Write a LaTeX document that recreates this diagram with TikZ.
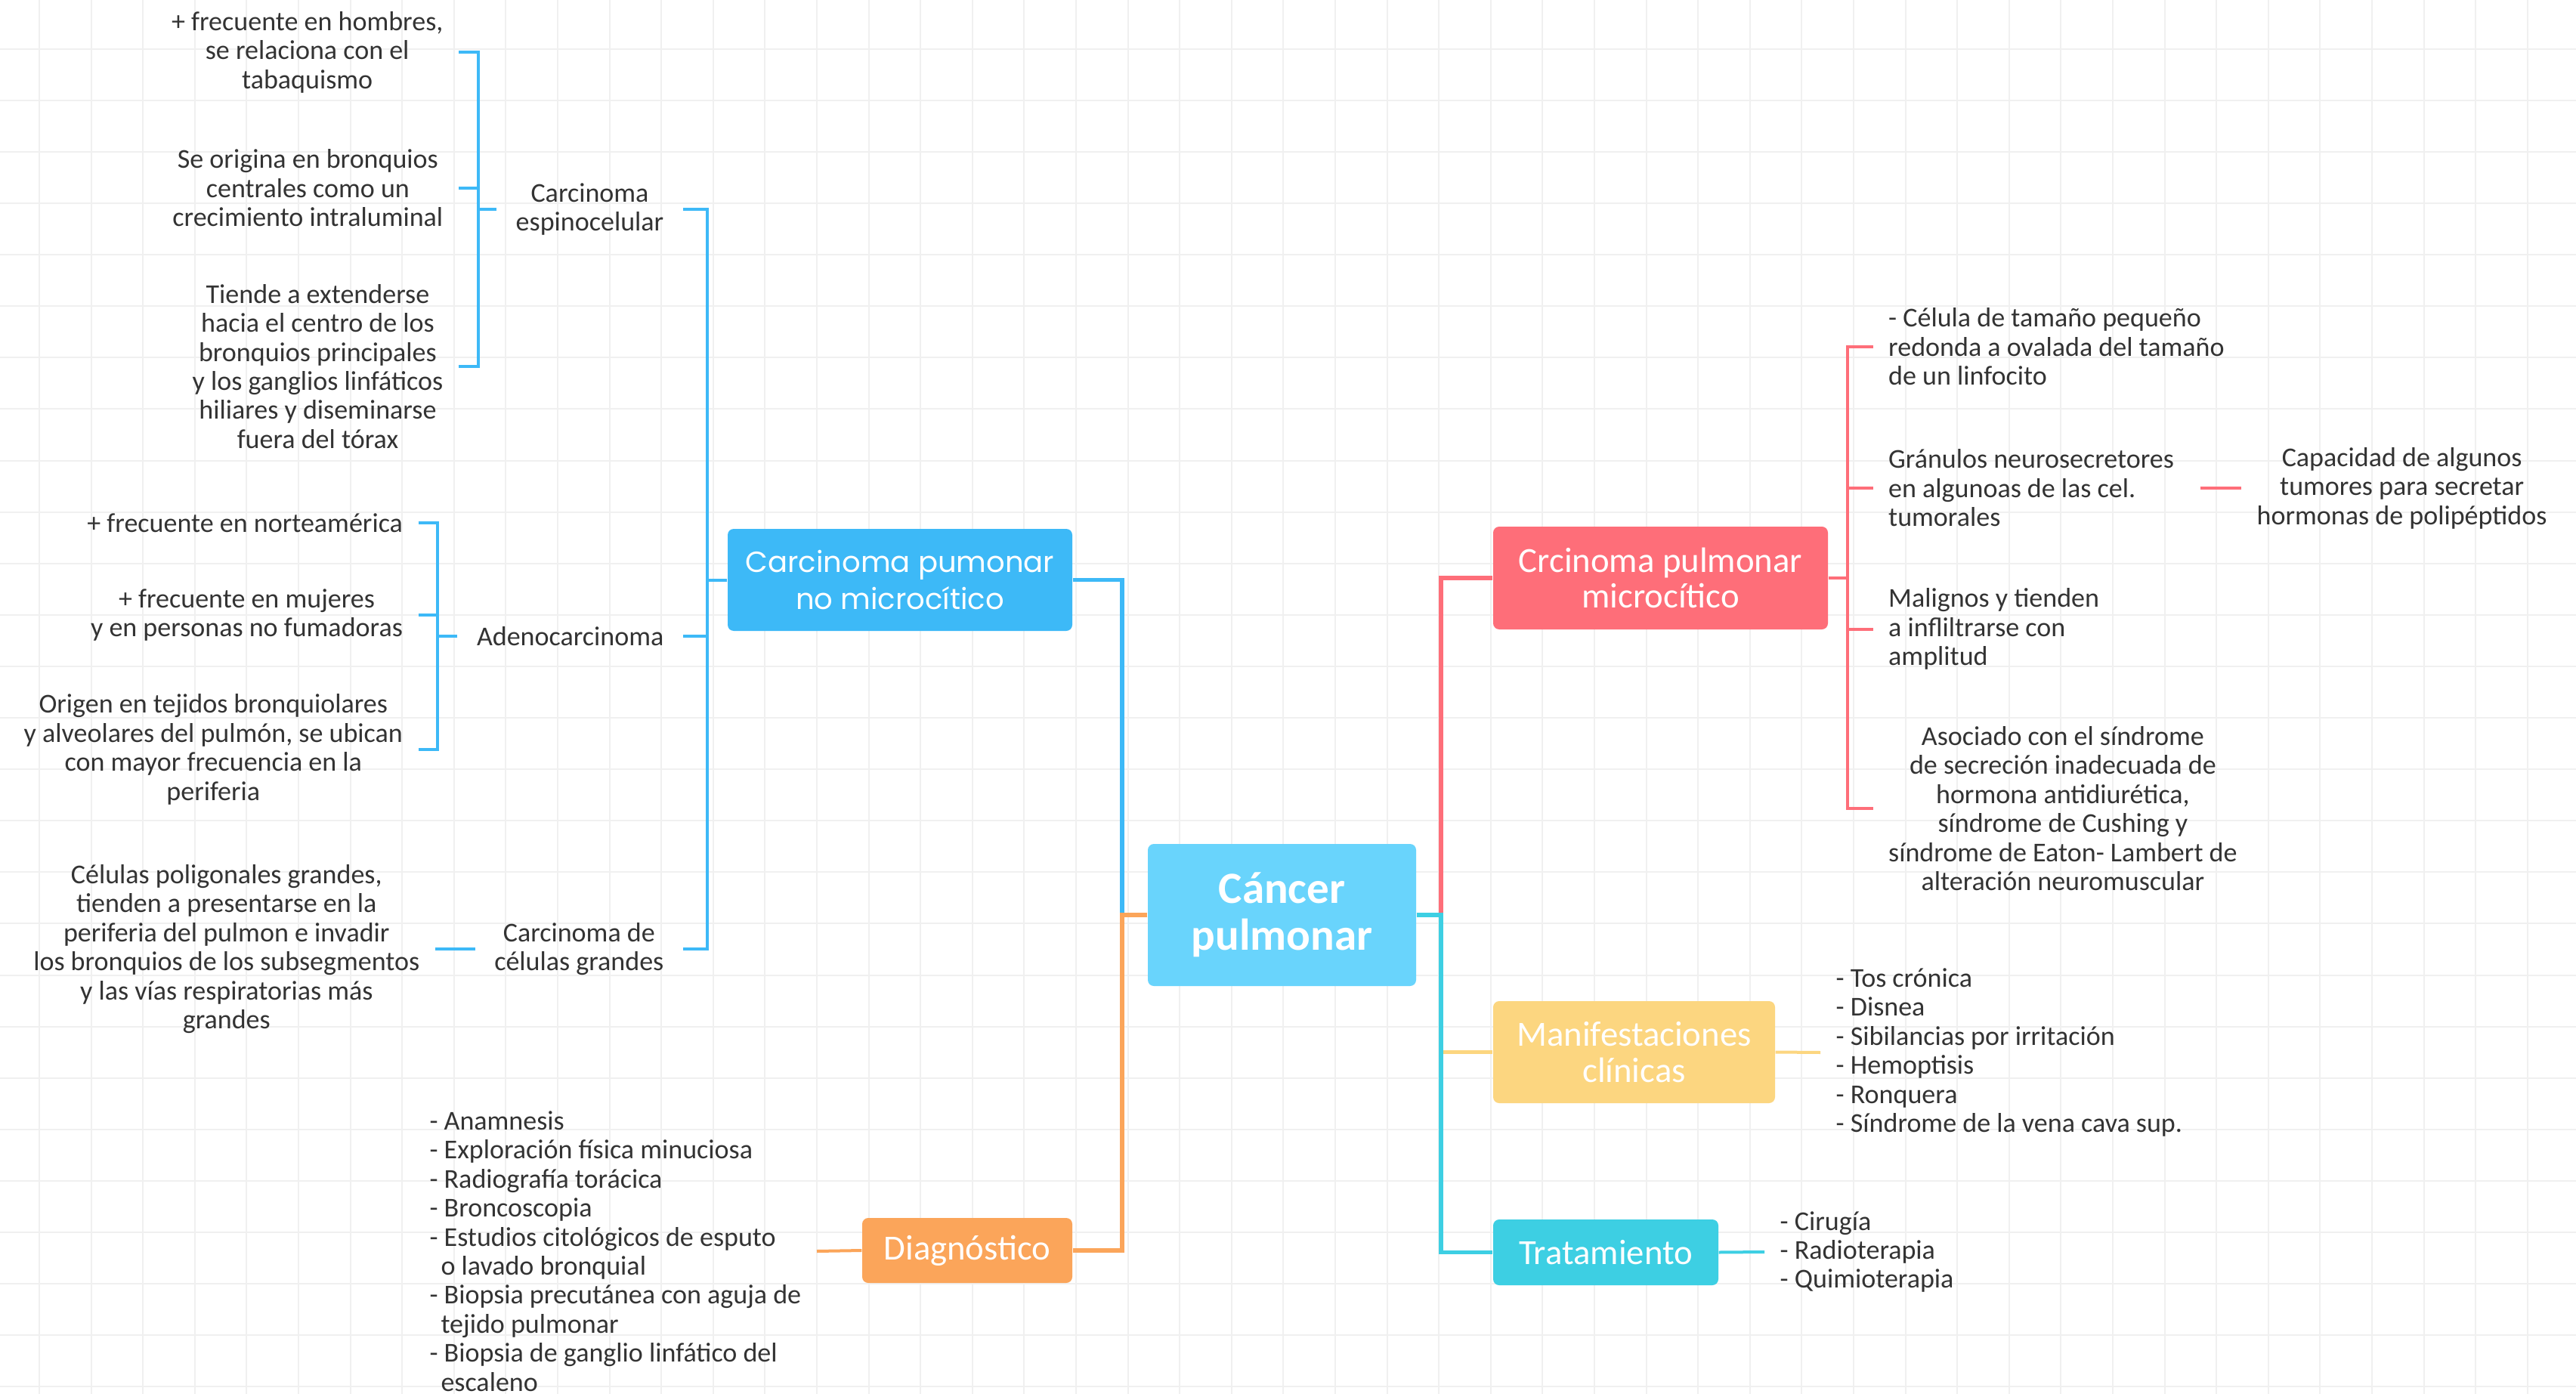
\documentclass[tikz,border=0pt]{standalone}
\usepackage{fontspec}
\setmainfont{Carlito}
\newfontfamily\wideface{Poppins}
\usepackage{xcolor}
\usepackage{tikz}

\definecolor{inkgray}{HTML}{333333}
\definecolor{gridgray}{HTML}{F0F0F0}
\definecolor{rootblue}{HTML}{69D4FC}
\definecolor{nsclcblue}{HTML}{3DB9F7}
\definecolor{sclcred}{HTML}{FE6E79}
\definecolor{clinyellow}{HTML}{FCD680}
\definecolor{tratcyan}{HTML}{3DCFE3}
\definecolor{diagorange}{HTML}{FBA55A}

\newcommand{\mmnote}{\fontsize{10.25}{10.93}\selectfont}
\newcommand{\mmtopic}{\fontsize{13.3}{13.5}\selectfont}
\newcommand{\mmroot}{\fontsize{16.8}{17.6}\selectfont\bfseries}
\newcommand{\mmwide}{\wideface\fontsize{10.96}{13.9}\selectfont}

\begin{document}
\begin{tikzpicture}[
            topic/.style={rectangle, rounded corners=0.08cm, text=white, align=center,
                 inner sep=0pt, font=\mmtopic},
            note/.style={text=inkgray, inner xsep=0.2cm, inner ysep=0pt, font=\mmnote},
            kind/.style={note, align=center, anchor=east, inner xsep=0.25cm},
            link/.style={line width=0.053cm},
            twig/.style={line width=0.04cm},
            gridline/.style={draw=gridgray, line width=0.02cm}
            ]

            % Background and grid
            \fill[white] (0,0) rectangle (34.09,-18.45);
            \useasboundingbox (0,0) rectangle (34.09,-18.45);
            \foreach \i in {0,...,48}
                \draw[gridline] ({0.52+0.686*\i},0) -- ++(0,-18.45);
            \foreach \j in {0,...,26}
                \draw[gridline] (0,{-0.647-0.681*\j}) -- ++(34.09,0);

            % Main topics with manual coordinates
            \node[topic, fill=rootblue, minimum width=3.55cm, minimum height=1.88cm, font=\mmroot] (root) at (16.965,-12.11) {Cáncer\\pulmonar};
            \node[topic, fill=nsclcblue, minimum width=4.56cm, minimum height=1.35cm, font=\mmwide] (nsclc) at (11.91,-7.675) {Carcinoma pumonar\\no microcítico};
            \node[topic, fill=diagorange, minimum width=2.78cm, minimum height=0.86cm] (diag) at (12.80,-16.55) {Diagnóstico};
            \node[topic, fill=sclcred, minimum width=4.43cm, minimum height=1.36cm] (sclc) at (21.975,-7.65) {Crcinoma pulmonar\\microcítico};
            \node[topic, fill=clinyellow, minimum width=3.73cm, minimum height=1.35cm] (clin) at (21.625,-13.925) {Manifestaciones\\clínicas};
            \node[topic, fill=tratcyan, minimum width=2.98cm, minimum height=0.87cm] (trat) at (21.25,-16.575) {Tratamiento};

            % Non small cell types
            \node[kind] (espino) at (9.04,-2.77) {Carcinoma\\espinocelular};
            \node[kind] (adeno) at (9.04,-8.42) {Adenocarcinoma};
            \node[kind] (grandes) at (9.04,-12.56) {Carcinoma de\\células grandes};

            \node[note, align=center, anchor=east] (esp1) at (6.07,-0.69) {+ frecuente en hombres,\\se relaciona con el\\tabaquismo};
            \node[note, align=center, anchor=east] (esp2) at (6.07,-2.49) {Se origina en bronquios\\centrales como un\\crecimiento intraluminal};
            \node[note, align=center, anchor=east] (esp3) at (6.07,-4.85) {Tiende a extenderse\\hacia el centro de los\\bronquios principales\\y los ganglios linfáticos\\hiliares y diseminarse\\fuera del tórax};

            \node[note, align=center, anchor=east] (ad1) at (5.536,-6.92) {+ frecuente en norteamérica};
            \node[note, align=center, anchor=east] (ad2) at (5.536,-8.14) {+ frecuente en mujeres\\y en personas no fumadoras};
            \node[note, align=center, anchor=east] (ad3) at (5.536,-9.92) {Origen en tejidos bronquiolares\\y alveolares del pulmón, se ubican\\con mayor frecuencia en la\\periferia};

            \node[note, align=center, anchor=east] (big1) at (5.76,-12.56) {Células poligonales grandes,\\tienden a presentarse en la\\periferia del pulmon e invadir\\los bronquios de los subsegmentos\\y las vías respiratorias más\\grandes};

            \node[note, align=left, anchor=east] (diaglist) at (10.81,-16.56) {- Anamnesis\\- Exploración física minuciosa\\- Radiografía torácica\\- Broncoscopia\\- Estudios citológicos de esputo\\\hspace*{0.15cm}o lavado bronquial\\- Biopsia precutánea con aguja de\\\hspace*{0.15cm}tejido pulmonar\\- Biopsia de ganglio linfático del\\\hspace*{0.15cm}escaleno};

            % Small cell notes
            \node[note, align=left, anchor=west] (red1) at (24.785,-4.59) {- Célula de tamaño pequeño\\redonda a ovalada del tamaño\\de un linfocito};
            \node[note, align=left, anchor=west] (red2) at (24.785,-6.46) {Gránulos neurosecretores\\en algunoas de las cel.\\tumorales};
            \node[note, align=center, anchor=west] (capa) at (29.66,-6.46) {Capacidad de algunos\\tumores para secretar\\hormonas de polipéptidos};
            \node[note, align=left, anchor=west] (red3) at (24.785,-8.325) {Malignos y tienden\\a infliltrarse con\\amplitud};
            \node[note, align=center, anchor=west] (red4) at (24.785,-10.70) {Asociado con el síndrome\\de secreción inadecuada de\\hormona antidiurética,\\síndrome de Cushing y\\síndrome de Eaton- Lambert de\\alteración neuromuscular};

            \node[note, align=left, anchor=west] (clinlist) at (24.09,-13.93) {- Tos crónica\\- Disnea\\- Sibilancias por irritación\\- Hemoptisis\\- Ronquera\\- Síndrome de la vena cava sup.};
            \node[note, align=left, anchor=west] (tratlist) at (23.35,-16.57) {- Cirugía\\- Radioterapia\\- Quimioterapia};

            % Junctions
            \coordinate (jl) at (14.85,-12.11);
            \coordinate (jr) at (19.07,-12.11);
            \coordinate (nv) at (9.36,-7.66);
            \coordinate (ev) at (6.33,-2.77);
            \coordinate (av) at (5.79,-8.42);
            \coordinate (rv) at (24.45,-7.65);

            % Branches from the root
            \draw[link, nsclcblue] (root.west) -- (jl) |- (nsclc.east);
            \draw[link, diagorange] (root.west) -- (jl) |- (diag.east);
            \draw[link, sclcred] (root.east) -- (jr) |- (sclc.west);
            \draw[link, clinyellow] (jr) |- (clin.west);
            \draw[link, tratcyan] (root.east) -- (jr) |- (trat.west);

            % Left side brackets
            \draw[twig, nsclcblue] (nsclc.west) -- (nsclc.west -| nv);
            \draw[twig, nsclcblue] (espino.east) -- (espino.east -| nv) |- (grandes.east);
            \draw[twig, nsclcblue] (adeno.east) -- (adeno.east -| nv);
            \draw[twig, nsclcblue] (esp1.east) -- (esp1.east -| ev) |- (esp3.east);
            \draw[twig, nsclcblue] (esp2.east) -- (esp2.east -| ev);
            \draw[twig, nsclcblue] (espino.west) -- (espino.west -| ev);
            \draw[twig, nsclcblue] (ad1.east) -- (ad1.east -| av) |- (ad3.east);
            \draw[twig, nsclcblue] (ad2.east) -- (ad2.east -| av);
            \draw[twig, nsclcblue] (adeno.west) -- (adeno.west -| av);
            \draw[twig, nsclcblue] (grandes.west) -- (big1.east);
            \draw[twig, diagorange] (diag.west) -- (diaglist.east);

            % Right side brackets
            \draw[twig, sclcred] (sclc.east) -- (sclc.east -| rv);
            \draw[twig, sclcred] (red1.west) -- (red1.west -| rv) |- (red4.west);
            \draw[twig, sclcred] (red2.west) -- (red2.west -| rv);
            \draw[twig, sclcred] (red3.west) -- (red3.west -| rv);
            \draw[twig, sclcred, shorten <=0.14cm] (red2.east) -- (capa.west);
            \draw[twig, clinyellow] (clin.east) -- (clinlist.west);
            \draw[twig, tratcyan] (trat.east) -- (tratlist.west);
        \end{tikzpicture}
\end{document}
